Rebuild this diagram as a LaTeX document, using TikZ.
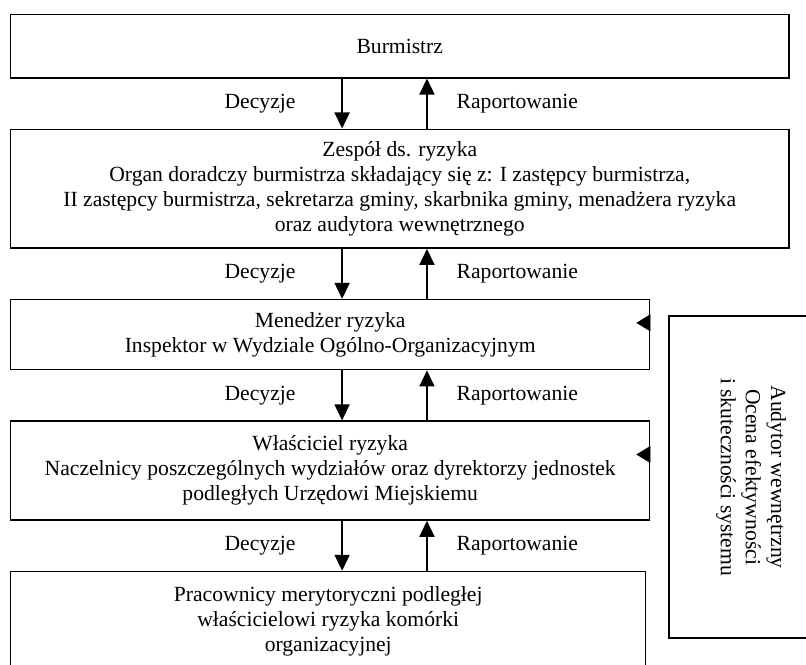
\documentclass[tikz,border=0pt]{standalone}
\usepackage{fontspec}
\setmainfont{Liberation Serif}
\usetikzlibrary{positioning,arrows.meta}
\tikzstyle{block} = [rectangle, draw, line width=0.8pt, align=center,
    inner sep=0pt, font=\fontsize{12}{13.9}\selectfont]
\tikzstyle{lbl} = [font=\fontsize{12}{13.9}\selectfont]
\tikzstyle{flow} = [line width=1.1pt, -{Triangle[length=8.9pt,width=8.3pt]}]
\tikzstyle{audit} = [white, line width=0.4pt, shorten <=1pt,
    -{Triangle[black,length=7.8pt,width=9.4pt]}]

\begin{document}
\begin{tikzpicture}[node distance=27.75pt]
		\useasboundingbox (-5.55pt,7.77pt) rectangle (441.75pt,-360.75pt);
		\node [block, minimum width=431.8pt, minimum height=35pt, anchor=north west] (burm) at (0,0) {Burmistrz};
		\node [block, minimum width=431.8pt, minimum height=66pt, below=of burm.south west, anchor=north west] (zesp) {Zespół ds. ryzyka \\
			Organ doradczy burmistrza składający się z: I zastępcy burmistrza, \\
			II zastępcy burmistrza, sekretarza gminy, skarbnika gminy, menadżera ryzyka \\
			oraz audytora wewnętrznego};
		\node [block, minimum width=354.6pt, minimum height=38.9pt, below=of zesp.south west, anchor=north west] (men) {Menedżer ryzyka \\
			Inspektor w Wydziale Ogólno-Organizacyjnym};
		\node [block, minimum width=354.6pt, minimum height=54.9pt, below=of men.south west, anchor=north west] (wlasc) {Właściciel ryzyka \\
			Naczelnicy poszczególnych wydziałów oraz dyrektorzy jednostek \\
			podległych Urzędowi Miejskiemu};
		\node [block, minimum width=352.4pt, minimum height=55.5pt, below=of wlasc.south west, anchor=north west] (prac) {Pracownicy merytoryczni podległej \\
			właścicielowi ryzyka komórki \\
			organizacyjnej};
		\node [block, rotate=-90, line width=1pt, minimum width=178.7pt, minimum height=91pt] (aud) at (411.3pt,-257pt) {Audytor wewnętrzny \\
			Ocena efektywności \\
			i skuteczności systemu};
		\coordinate (menin) at ([xshift=-7.8pt, yshift=-13.3pt]men.north east);
		\coordinate (wlascin) at ([xshift=-7.8pt, yshift=-18.9pt]wlasc.north east);
		
		
		\draw [flow] ([xshift=184.3pt]burm.south west) -- node [lbl, left=22pt] {Decyzje} ([xshift=184.3pt]zesp.north west);
		\draw [flow] ([xshift=231.4pt]zesp.north west) -- node [lbl, right=12.6pt] {Raportowanie} ([xshift=231.4pt]burm.south west);
		\draw [flow] ([xshift=184.3pt]zesp.south west) -- node [lbl, left=22pt] {Decyzje} ([xshift=184.3pt]men.north west);
		\draw [flow] ([xshift=231.4pt]men.north west) -- node [lbl, right=12.6pt] {Raportowanie} ([xshift=231.4pt]zesp.south west);
		\draw [flow] ([xshift=184.3pt]men.south west) -- node [lbl, left=22pt] {Decyzje} ([xshift=184.3pt]wlasc.north west);
		\draw [flow] ([xshift=231.4pt]wlasc.north west) -- node [lbl, right=12.6pt] {Raportowanie} ([xshift=231.4pt]men.south west);
		\draw [flow] ([xshift=184.3pt]wlasc.south west) -- node [lbl, left=22pt] {Decyzje} ([xshift=184.3pt]prac.north west);
		\draw [flow] ([xshift=231.4pt]prac.north west) -- node [lbl, right=12.6pt] {Raportowanie} ([xshift=231.4pt]wlasc.south west);
		\draw [audit] (menin -| aud.south) -- (menin);
		\draw [audit] (wlascin -| aud.south) -- (wlascin);
		
		\end{tikzpicture}
\end{document}
